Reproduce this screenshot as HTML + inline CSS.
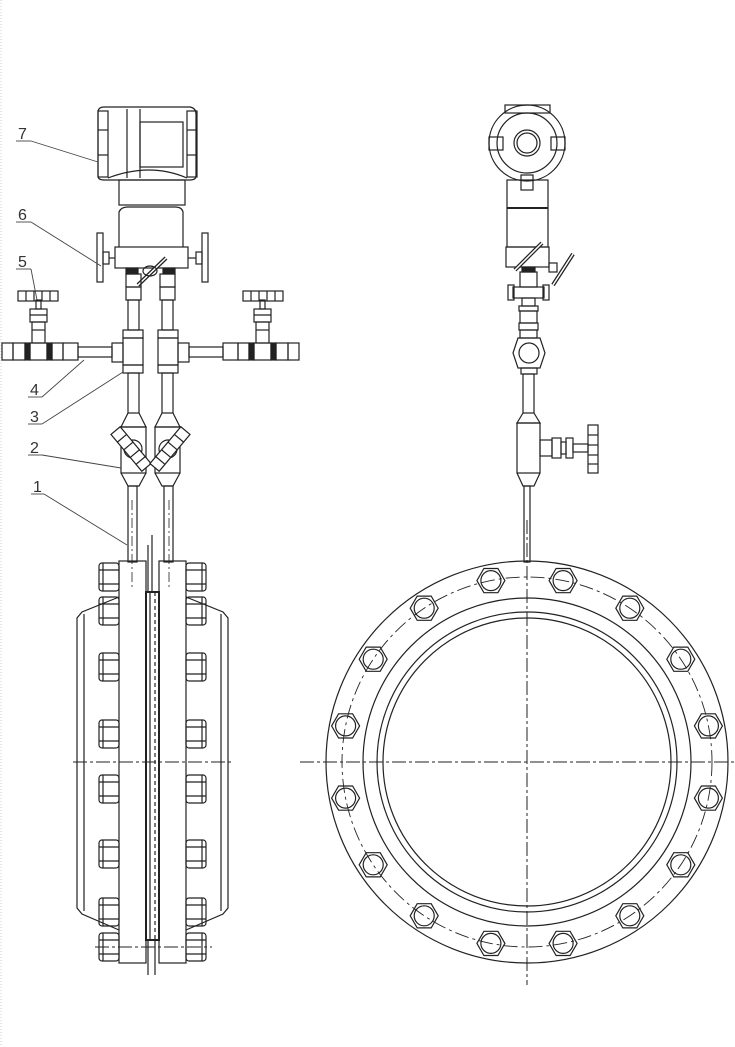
<!DOCTYPE html>
<html><head><meta charset="utf-8"><style>
html,body{margin:0;padding:0;background:#fff}
svg{display:block}
text{font-family:"Liberation Sans",sans-serif;font-size:16px;fill:#333}
</style></head><body>
<svg width="735" height="1047" viewBox="0 0 735 1047" xmlns="http://www.w3.org/2000/svg" fill="none" stroke="#222" stroke-width="1.2">
<defs>
<g id="hb"><polygon points="14,0 7,12.1 -7,12.1 -14,0 -7,-12.1 7,-12.1"/><circle r="10"/></g>
</defs>
<line x1="1" y1="0" x2="1" y2="1047" stroke="#ccc" stroke-width="1" stroke-dasharray="1 2"/>
<!-- LEFT VIEW: transmitter -->
<path d="M104 107 H190 Q196 108 196 114 V176 Q196 180 190 180 H104 Q98 180 98 176 V111 Q99 107 104 107Z"/>
<rect x="98" y="111" width="10" height="66"/>
<rect x="187" y="111" width="10" height="66"/>
<line x1="98" y1="130" x2="108" y2="130"/><line x1="98" y1="155" x2="108" y2="155"/>
<line x1="187" y1="130" x2="197" y2="130"/><line x1="187" y1="155" x2="197" y2="155"/>
<line x1="127" y1="109" x2="127" y2="178"/><line x1="140" y1="109" x2="140" y2="178"/>
<rect x="140" y="122" width="43" height="45"/>
<path d="M108 178 Q150 162 187 178"/>
<rect x="119" y="180" width="66" height="25"/>
<path d="M119 247 V212 Q121 207 128 207 H175 Q182 207 183 212 V247"/>
<rect x="115" y="247" width="73" height="21"/>
<rect x="97" y="233" width="6" height="49"/>
<rect x="202" y="233" width="6" height="49"/>
<rect x="103" y="252" width="6" height="12"/><line x1="109" y1="258" x2="115" y2="258"/>
<rect x="196" y="252" width="6" height="12"/><line x1="188" y1="258" x2="196" y2="258"/>
<line x1="138" y1="285" x2="166" y2="258" stroke-width="4"/>
<line x1="138" y1="285" x2="166" y2="258" stroke="#fff" stroke-width="1.5"/>
<ellipse cx="150" cy="271" rx="7" ry="5"/>
<!-- mirrored piping -->
<g id="half">
<rect x="126" y="268" width="12" height="6" fill="#222"/>
<rect x="126" y="274" width="15" height="13"/>
<rect x="126" y="287" width="15" height="13"/>
<rect x="128" y="300" width="11" height="30"/>
<rect x="123" y="330" width="20" height="8"/>
<rect x="123" y="338" width="20" height="27"/>
<rect x="123" y="365" width="20" height="8"/>
<rect x="112" y="343" width="11" height="19"/>
<rect x="78" y="347" width="34" height="10"/>
<rect x="2" y="343" width="11" height="17"/>
<rect x="13" y="343" width="12" height="17"/>
<rect x="25" y="343" width="5" height="17" fill="#222"/>
<rect x="30" y="343" width="17" height="17"/>
<rect x="47" y="343" width="5" height="17" fill="#222"/>
<rect x="52" y="343" width="11" height="17"/>
<rect x="63" y="343" width="15" height="17"/>
<rect x="32" y="322" width="13" height="21"/><line x1="32" y1="330" x2="45" y2="330"/>
<rect x="30" y="309" width="17" height="13"/><line x1="30" y1="315" x2="47" y2="315"/>
<rect x="36" y="300" width="5" height="9"/>
<rect x="18" y="291" width="40" height="10"/>
<line x1="26" y1="291" x2="26" y2="301"/><line x1="34" y1="291" x2="34" y2="301"/><line x1="42" y1="291" x2="42" y2="301"/><line x1="50" y1="291" x2="50" y2="301"/>
<rect x="128" y="373" width="11" height="40"/>
<path d="M128 413 L121 427 H146 L139 413"/>
<rect x="121" y="427" width="25" height="46"/>
<path d="M121 473 L128 486 H139 L146 473"/>
<circle cx="133" cy="449" r="9"/>
<g transform="rotate(50 131 449)"><rect x="107" y="443" width="48" height="12" fill="#fff"/><line x1="117" y1="443" x2="117" y2="455"/><line x1="127" y1="443" x2="127" y2="455"/><line x1="137" y1="443" x2="137" y2="455"/><line x1="146" y1="443" x2="146" y2="455"/></g>
<rect x="128" y="486" width="9" height="76"/>
<line x1="132" y1="500" x2="132" y2="590" stroke-dasharray="10 3 2 3" stroke-width="0.8"/>
</g>
<use href="#half" transform="matrix(-1 0 0 1 301 0)"/>
<!-- flange side view -->
<rect x="119" y="561" width="27" height="402"/>
<rect x="159" y="561" width="27" height="402"/>
<rect x="146" y="592" width="13" height="348" stroke-width="2"/>
<line x1="150" y1="592" x2="150" y2="940"/><line x1="155" y1="592" x2="155" y2="940" stroke-dasharray="4 3"/>
<line x1="152" y1="535" x2="152" y2="592"/><line x1="148" y1="545" x2="148" y2="592"/>
<line x1="148" y1="940" x2="148" y2="975"/><line x1="155" y1="940" x2="155" y2="975"/>
<path d="M119 597 L82 612 L77 618 V908 L82 914 L119 930"/>
<line x1="84" y1="614" x2="84" y2="911"/>
<path d="M186 597 L223 612 L228 618 V908 L223 914 L186 930"/>
<line x1="221" y1="614" x2="221" y2="911"/>
<g id="bolts">
<g id="nut"><rect x="99" y="563" width="20" height="28" rx="3"/><line x1="103" y1="563" x2="103" y2="591"/><line x1="99" y1="570" x2="119" y2="570"/><line x1="99" y1="584" x2="119" y2="584"/></g>
<use href="#nut" y="34"/><use href="#nut" y="90"/><use href="#nut" y="157"/><use href="#nut" y="212"/><use href="#nut" y="277"/><use href="#nut" y="335"/><use href="#nut" y="370"/>
</g>
<use href="#bolts" transform="matrix(-1 0 0 1 305 0)"/>
<line x1="73" y1="762" x2="233" y2="762" stroke-dasharray="14 3 3 3" stroke-width="1"/>
<line x1="95" y1="947" x2="212" y2="947" stroke-dasharray="14 3 3 3" stroke-width="1"/>
<!-- RIGHT VIEW top -->
<rect x="505" y="105" width="45" height="8"/>
<circle cx="527" cy="143" r="38"/>
<circle cx="527" cy="143" r="30"/>
<circle cx="527" cy="143" r="13"/>
<circle cx="527" cy="143" r="10"/>
<rect x="489" y="137" width="14" height="13"/><rect x="551" y="137" width="14" height="13"/>
<rect x="521" y="175" width="12" height="15"/>
<rect x="507" y="180" width="41" height="67"/>
<line x1="507" y1="208" x2="548" y2="208" stroke-width="2"/>
<rect x="506" y="247" width="43" height="20"/>
<line x1="515" y1="270" x2="542" y2="243" stroke-width="4"/><line x1="515" y1="270" x2="542" y2="243" stroke="#fff" stroke-width="1.5"/>
<line x1="553" y1="285" x2="573" y2="254" stroke-width="4"/><line x1="553" y1="285" x2="573" y2="254" stroke="#fff" stroke-width="1.5"/>
<rect x="549" y="263" width="8" height="9"/>
<rect x="522" y="267" width="13" height="5" fill="#222"/>
<rect x="520" y="272" width="17" height="15"/>
<rect x="513" y="287" width="31" height="11"/>
<rect x="508" y="285" width="6" height="15"/><rect x="543" y="285" width="6" height="15"/>
<rect x="522" y="298" width="13" height="8"/>
<rect x="519" y="306" width="19" height="5"/>
<rect x="520" y="311" width="17" height="12"/>
<rect x="519" y="323" width="19" height="7"/>
<rect x="520" y="330" width="17" height="8"/>
<path d="M513 353 L518 338 H540 L545 353 L540 368 H518Z"/>
<circle cx="529" cy="353" r="10"/>
<rect x="521" y="368" width="16" height="6"/>
<rect x="523" y="374" width="11" height="39"/>
<path d="M523 413 L517 423 H540 L534 413"/>
<rect x="517" y="423" width="23" height="50"/>
<path d="M517 473 L523 486 H534 L540 473"/>
<rect x="540" y="440" width="12" height="16"/>
<rect x="552" y="438" width="9" height="20"/>
<rect x="561" y="442" width="5" height="12"/>
<rect x="566" y="438" width="7" height="20"/>
<rect x="573" y="444" width="15" height="8"/>
<rect x="588" y="425" width="10" height="48"/>
<line x1="588" y1="435" x2="598" y2="435"/><line x1="588" y1="445" x2="598" y2="445"/><line x1="588" y1="455" x2="598" y2="455"/><line x1="588" y1="464" x2="598" y2="464"/>
<rect x="524" y="486" width="6" height="76"/>
<!-- RIGHT VIEW flange -->
<circle cx="527" cy="762" r="201"/>
<circle cx="527" cy="762" r="164"/>
<circle cx="527" cy="762" r="150"/>
<circle cx="527" cy="762" r="144"/>
<circle cx="527" cy="762" r="185" stroke-dasharray="14 4 3 4" stroke-width="0.9"/>
<line x1="300" y1="762" x2="735" y2="762" stroke-dasharray="14 3 3 3" stroke-width="1"/>
<line x1="527" y1="520" x2="527" y2="985" stroke-dasharray="14 3 3 3" stroke-width="1"/>
<use href="#hb" transform="translate(563.1 580.6)"/>
<use href="#hb" transform="translate(490.9 580.6)"/>
<use href="#hb" transform="translate(629.8 608.2)"/>
<use href="#hb" transform="translate(424.2 608.2)"/>
<use href="#hb" transform="translate(680.8 659.2)"/>
<use href="#hb" transform="translate(373.2 659.2)"/>
<use href="#hb" transform="translate(708.4 725.9)"/>
<use href="#hb" transform="translate(345.6 725.9)"/>
<use href="#hb" transform="translate(708.4 798.1)"/>
<use href="#hb" transform="translate(345.6 798.1)"/>
<use href="#hb" transform="translate(680.8 864.8)"/>
<use href="#hb" transform="translate(373.2 864.8)"/>
<use href="#hb" transform="translate(629.8 915.8)"/>
<use href="#hb" transform="translate(424.2 915.8)"/>
<use href="#hb" transform="translate(563.1 943.4)"/>
<use href="#hb" transform="translate(490.9 943.4)"/>
<!-- labels -->
<g stroke-width="0.9" stroke="#444">
<line x1="16" y1="141" x2="31" y2="141"/><line x1="31" y1="141" x2="98" y2="162"/>
<line x1="16" y1="222" x2="31" y2="222"/><line x1="31" y1="222" x2="101" y2="266"/>
<line x1="16" y1="269" x2="31" y2="269"/><line x1="31" y1="269" x2="37" y2="300"/>
<line x1="28" y1="397" x2="42" y2="397"/><line x1="42" y1="397" x2="84" y2="360"/>
<line x1="28" y1="424" x2="42" y2="424"/><line x1="42" y1="424" x2="123" y2="372"/>
<line x1="28" y1="455" x2="42" y2="455"/><line x1="42" y1="455" x2="121" y2="468"/>
<line x1="31" y1="494" x2="44" y2="494"/><line x1="44" y1="494" x2="127" y2="545"/>
</g>
<g stroke="none">
<text x="18" y="139">7</text>
<text x="18" y="220">6</text>
<text x="18" y="267">5</text>
<text x="30" y="395">4</text>
<text x="30" y="422">3</text>
<text x="30" y="453">2</text>
<text x="33" y="492">1</text>
</g>
</svg>
</body></html>
